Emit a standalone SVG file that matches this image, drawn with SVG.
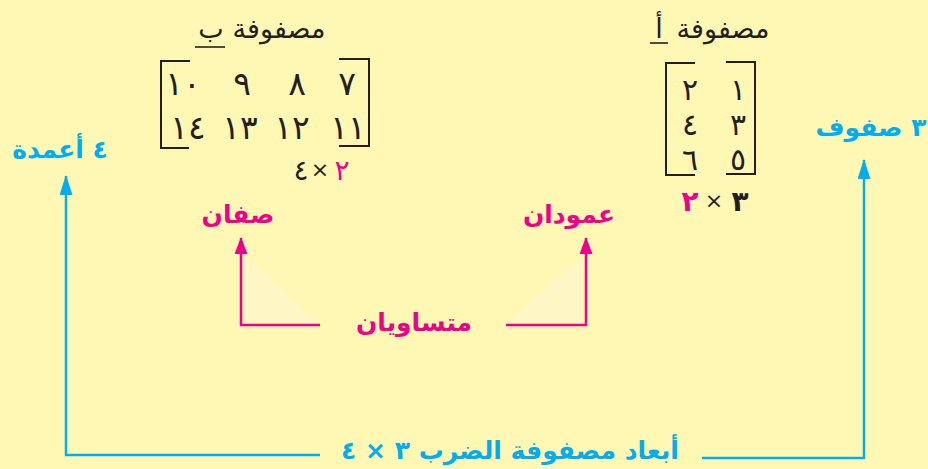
<svg xmlns="http://www.w3.org/2000/svg" width="928" height="469" viewBox="0 0 928 469">
<defs>
<style>
.bg{fill:#FFF8B4}
.tri{fill:#FFF6C6}
.br{fill:none;stroke:#231F20;stroke-width:2}
.ul{stroke:#231F20;stroke-width:1.6}
.k{font-family:"DejaVu Sans",sans-serif;fill:#231F20}
.num{font-size:33px}
.numa{font-size:30px}
.ttl{font-size:27px}
.mg{fill:#EC008C}
.bl{fill:#00AEEF}
.lab{font-family:"DejaVu Sans",sans-serif;font-weight:bold}
.cb{fill:none;stroke:#00AEEF;stroke-width:2.5}
.cm{fill:none;stroke:#EC008C;stroke-width:2.5}
</style>
<marker id="ab" markerUnits="userSpaceOnUse" viewBox="0 0 20 13" markerWidth="20" markerHeight="13" refX="19" refY="6.5" orient="auto"><path d="M0,0 L20,6.5 L0,13 Z" fill="#00AEEF"/></marker>
<marker id="am" markerUnits="userSpaceOnUse" viewBox="0 0 17 13" markerWidth="17" markerHeight="13" refX="16" refY="6.5" orient="auto"><path d="M0,0 L17,6.5 L0,13 Z" fill="#EC008C"/></marker>
</defs>
<rect class="bg" x="0" y="0" width="928" height="469"/>
<polygon class="tri" points="243,255 318,323 243,323"/>
<polygon class="tri" points="583,255 508,323 583,323"/>

<g id="matrixB">
<text class="k ttl" x="279" y="38" text-anchor="middle" direction="rtl">مصفوفة</text>
<text class="k ttl" x="211" y="38" text-anchor="middle">ب</text>
<line class="ul" x1="195" y1="47" x2="225" y2="47"/>
<path class="br" d="M190,61 H161 V148 H189"/>
<path class="br" d="M339,59 H369 V146 H339"/>
<g class="k num" text-anchor="middle">
<text x="183" y="95">١٠</text><text x="242" y="95">٩</text><text x="297" y="95">٨</text><text x="347" y="95">٧</text>
<text x="188" y="139">١٤</text><text x="240" y="139">١٣</text><text x="292" y="139">١٢</text><text x="348" y="139">١١</text>
</g>
<g class="k" font-size="28" text-anchor="middle">
<text x="301" y="180">٤</text><text x="320" y="177" font-size="22">×</text><text class="mg" x="342" y="180">٢</text>
</g>
</g>

<g id="matrixA">
<text class="k ttl" x="723" y="38" text-anchor="middle" direction="rtl">مصفوفة</text>
<text class="k ttl" x="659" y="38" text-anchor="middle">أ</text>
<line class="ul" x1="650" y1="43" x2="668" y2="43"/>
<path class="br" d="M695,63 H666 V175 H695"/>
<path class="br" d="M726,62 H755 V174 H726"/>
<g class="k numa" text-anchor="middle">
<text x="690" y="100">٢</text><text x="738" y="100">١</text>
<text x="690" y="135">٤</text><text x="738" y="135">٣</text>
<text x="690" y="170">٦</text><text x="738" y="170">٥</text>
</g>
<g class="k" font-size="28" font-weight="bold" text-anchor="middle">
<text class="mg" x="690" y="211">٢</text><text x="714" y="208" font-size="22" font-weight="normal">×</text><text x="740" y="211">٣</text>
</g>
</g>

<g id="labelCols"><text class="lab bl" x="60" y="158" font-size="25" text-anchor="middle" direction="rtl">٤ أعمدة</text></g>
<g id="labelRows"><text class="lab bl" x="871" y="136" font-size="25" text-anchor="middle" direction="rtl">٣ صفوف</text></g>
<g id="labelTwoRows"><text class="lab mg" x="238" y="223" font-size="25" text-anchor="middle" direction="rtl">صفان</text></g>
<g id="labelTwoCols"><text class="lab mg" x="569" y="223" font-size="25" text-anchor="middle" direction="rtl">عمودان</text></g>
<g id="labelEqual"><text class="lab mg" x="414" y="331" font-size="25" text-anchor="middle" direction="rtl">متساويان</text></g>
<g id="labelDims"><text class="lab bl" x="510" y="459" font-size="25" text-anchor="middle" direction="rtl">أبعاد مصفوفة الضرب ٣ × ٤</text></g>

<g id="connectors">
<path class="cb" d="M320,455 H66 V176" marker-end="url(#ab)"/>
<path class="cb" d="M702,458 H864 V160" marker-end="url(#ab)"/>
<path class="cm" d="M320,325 H241 V238" marker-end="url(#am)"/>
<path class="cm" d="M506,325 H586 V238" marker-end="url(#am)"/>
</g>
</svg>
